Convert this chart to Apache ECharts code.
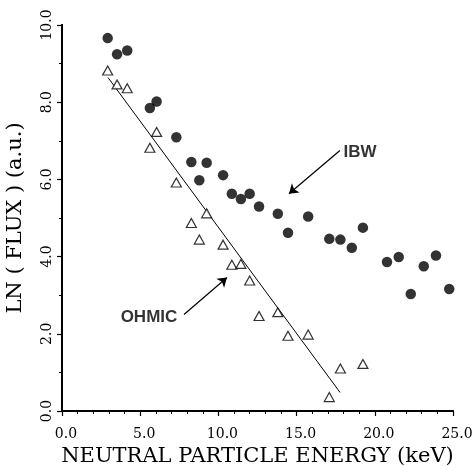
<!DOCTYPE html>
<html>
<head>
<meta charset="utf-8">
<script src="https://cdn.jsdelivr.net/npm/echarts@6/dist/echarts.min.js"></script>
<style>html,body{margin:0;padding:0;background:#fff}#c{width:476px;height:466px}</style>
</head>
<body>
<div id="c"></div>
<script>
// IBW (filled circles)
var ibwX = [2.92, 3.52, 4.17, 5.62, 6.05, 7.31, 8.27, 8.78, 9.25, 10.3, 10.86, 11.44, 12.0, 12.6, 13.8, 14.45, 15.74, 17.09, 17.8, 18.53, 19.24, 20.78, 21.53, 22.3, 23.13, 23.91, 24.76];
var ibwY = [9.66, 9.24, 9.34, 7.85, 8.02, 7.09, 6.45, 5.98, 6.43, 6.11, 5.63, 5.49, 5.63, 5.30, 5.11, 4.62, 5.04, 4.46, 4.44, 4.23, 4.75, 3.86, 3.99, 3.03, 3.75, 4.03, 3.16];
// OHMIC (open triangles)
var ohmX = [2.92, 3.52, 4.17, 5.62, 6.05, 7.31, 8.27, 8.78, 9.25, 10.3, 10.86, 11.44, 12.0, 12.6, 13.8, 14.45, 15.74, 17.09, 17.8, 19.24];
var ohmY = [8.82, 8.46, 8.36, 6.82, 7.23, 5.92, 4.87, 4.44, 5.12, 4.31, 3.79, 3.81, 3.38, 2.46, 2.56, 1.95, 1.98, 0.36, 1.10, 1.22];
// OHMIC linear fit end points
var fitX = [2.94, 17.78];
var fitY = [8.64, 0.48];
// annotations (data coordinates)
var ibwLabel = {text: 'IBW', at: [19.05, 6.69], from: [17.77, 6.75], to: [14.51, 5.63]};
var ohmLabel = {text: 'OHMIC', at: [5.56, 2.42], from: [7.80, 2.50], to: [10.55, 3.46]};
var xTicks = ['0.0', '5.0', '10.0', '15.0', '20.0', '25.0'];
var yTicks = ['0.0', '2.0', '4.0', '6.0', '8.0', '10.0'];

function zip(a, b) { return a.map(function (v, i) { return [v, b[i]]; }); }

var serif = 'DejaVu Serif';
var chart = echarts.init(document.getElementById('c'), null, {renderer: 'canvas'});
var axisLine = {show: true, lineStyle: {color: '#000', width: 2}};
chart.setOption({
  animation: false,
  backgroundColor: '#fff',
  grid: {left: 62, right: 23, top: 25, bottom: 55, containLabel: false, outerBoundsMode: 'none'},
  xAxis: [{
    type: 'value', min: 0, max: 25, interval: 5, position: 'bottom',
    axisLine: axisLine,
    axisTick: {show: true, inside: false, length: 5, lineStyle: {color: '#000', width: 1.2}},
    minorTick: {show: true, splitNumber: 5, length: 3, lineStyle: {color: '#000', width: 1}},
    splitLine: {show: false},
    axisLabel: {margin: 16, color: '#000', fontFamily: serif, fontSize: 14, padding: [0, 0, 0, 8],
      formatter: function (v) { return xTicks[Math.round(v / 5)]; }},
    name: 'NEUTRAL PARTICLE ENERGY (keV)', nameLocation: 'middle', nameGap: 28,
    nameTextStyle: {color: '#000', fontFamily: serif, fontSize: 21, padding: [0, 0, 0, 0]}
  }, {
    type: 'value', min: 0, max: 25, position: 'top',
    axisLine: axisLine, axisTick: {show: false}, axisLabel: {show: false}, splitLine: {show: false}
  }],
  yAxis: [{
    type: 'value', min: 0, max: 10, interval: 2, position: 'left',
    axisLine: axisLine,
    axisTick: {show: true, inside: false, length: 5, lineStyle: {color: '#000', width: 1.2}},
    minorTick: {show: true, splitNumber: 2, length: 3, lineStyle: {color: '#000', width: 1}},
    splitLine: {show: false},
    axisLabel: {margin: 8, rotate: 90, color: '#000', fontFamily: serif, fontSize: 14,
      formatter: function (v) { return yTicks[Math.round(v / 2)]; }},
    name: 'LN ( FLUX ) (a.u.)', nameLocation: 'middle', nameGap: 36, nameRotate: 90,
    nameTextStyle: {color: '#000', fontFamily: serif, fontSize: 21}
  }, {
    type: 'value', min: 0, max: 10, position: 'right',
    axisLine: axisLine, axisTick: {show: false}, axisLabel: {show: false}, splitLine: {show: false}
  }],
  series: [{
    name: 'fit', type: 'line', data: zip(fitX, fitY), symbol: 'none',
    lineStyle: {color: '#000', width: 1}, z: 1,
    markLine: {
      silent: true, symbol: ['none', 'arrow'], symbolSize: 9,
      label: {show: false},
      lineStyle: {color: '#000', width: 1.2, type: 'solid'},
      data: [
        [{coord: ibwLabel.from}, {coord: ibwLabel.to}],
        [{coord: ohmLabel.from}, {coord: ohmLabel.to}]
      ]
    }
  }, {
    name: 'IBW', type: 'scatter', data: zip(ibwX, ibwY), symbol: 'circle', symbolSize: 10.5,
    itemStyle: {color: '#000'}, z: 3
  }, {
    name: 'OHMIC', type: 'scatter', data: zip(ohmX, ohmY), symbol: 'triangle', symbolSize: [10, 9],
    itemStyle: {color: '#fff', borderColor: '#000', borderWidth: 1.2}, z: 3
  }, {
    name: 'labels', type: 'scatter', symbolSize: 0,
    data: [
      {value: ibwLabel.at, label: {show: true, formatter: ibwLabel.text}},
      {value: ohmLabel.at, label: {show: true, formatter: ohmLabel.text}}
    ],
    label: {position: 'inside', color: '#000', textBorderWidth: 0, textBorderColor: 'transparent',
      fontFamily: 'Liberation Sans', fontWeight: 'bold', fontSize: 17}
  }]
});
</script>
</body>
</html>
